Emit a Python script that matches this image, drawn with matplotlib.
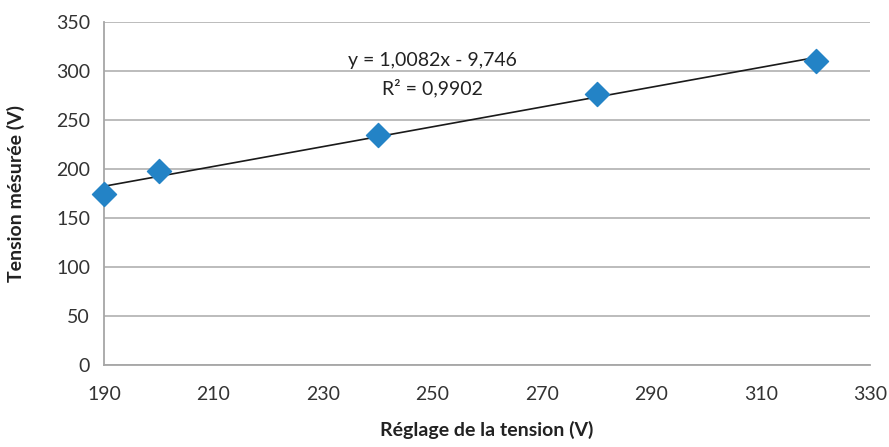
import matplotlib
matplotlib.use("Agg")
import matplotlib.pyplot as plt
import numpy as np

plt.rcParams['font.family'] = ['Lato', 'DejaVu Sans']

x_set = [190, 200, 240, 280, 320]
y_meas = [175, 198, 235, 277, 310]
x_ticks = [190, 210, 230, 250, 270, 290, 310, 330]
y_ticks = [0, 50, 100, 150, 200, 250, 300, 350]
eq_text = "y = 1,0082x - 9,746"
r2_text = "R² = 0,9902"

fig = plt.figure(figsize=(8.89, 4.47), dpi=100)
ax = fig.add_axes([0.117, 0.183, 0.862, 0.768])

ax.set_xlim(190, 330)
ax.set_ylim(0, 350)
ax.set_xticks(x_ticks)
ax.set_yticks(y_ticks)
ax.yaxis.grid(True, color='#b0b0b0', linewidth=1.2)
ax.set_axisbelow(True)
for s in ['top', 'right']:
    ax.spines[s].set_visible(False)
for s in ['left', 'bottom']:
    ax.spines[s].set_color('#a6a6a6')
    ax.spines[s].set_linewidth(1.3)
ax.tick_params(length=0, labelsize=14, colors='#333333', pad=10)
ax.tick_params(axis='x', pad=15)

coef = np.polyfit(x_set, y_meas, 1)
xx = np.array([min(x_set), max(x_set)])
ax.plot(xx, np.polyval(coef, xx), color='#1a1a1a', linewidth=1.2, zorder=2)
ax.scatter(x_set, y_meas, marker='D', s=150, color='#2383c6', zorder=3, clip_on=False)

ax.text(250, 311, eq_text, ha='center', va='center', fontsize=14, color='#222222')
ax.text(250, 283, r2_text, ha='center', va='center', fontsize=14, color='#222222')

ax.set_xlabel("Réglage de la tension (V)", fontsize=14, fontweight='bold', color='#222222', labelpad=13)
ax.set_ylabel("Tension mésurée (V)", fontsize=14, fontweight='bold', color='#222222', labelpad=22)

fig.savefig("out.png", dpi=100)
